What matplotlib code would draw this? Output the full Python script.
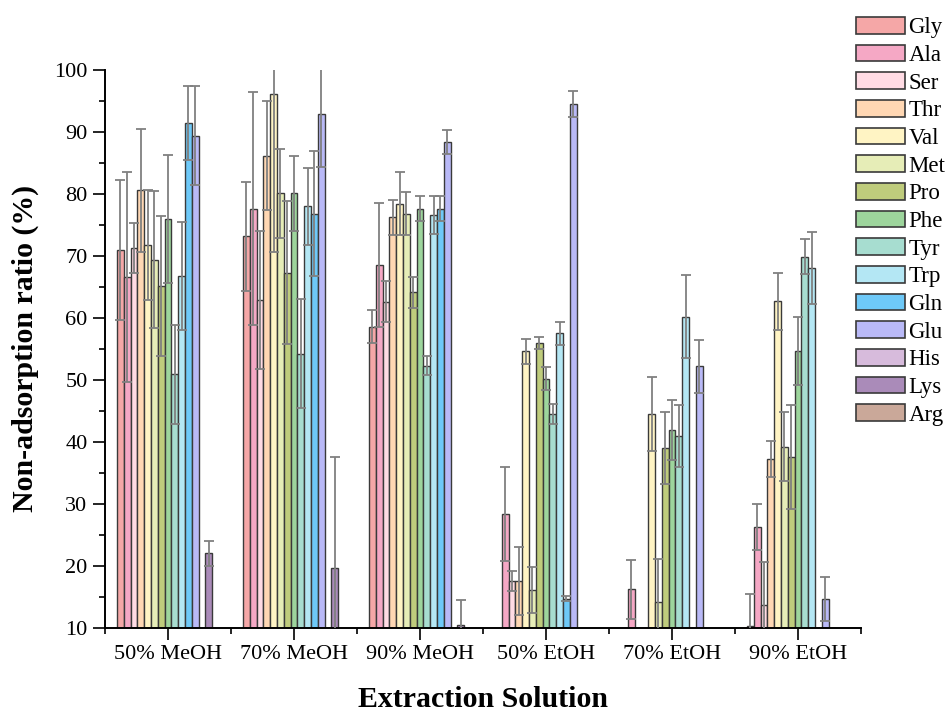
import numpy as np
import matplotlib.pyplot as plt
from matplotlib.patches import Patch

plt.rcParams['font.family'] = ['Liberation Serif', 'DejaVu Serif']

solutions = ['50% MeOH', '70% MeOH', '90% MeOH', '50% EtOH', '70% EtOH', '90% EtOH']
amino_acids = ['Gly', 'Ala', 'Ser', 'Thr', 'Val', 'Met', 'Pro', 'Phe',
               'Tyr', 'Trp', 'Gln', 'Glu', 'His', 'Lys', 'Arg']
colors = ['#f5a7a7', '#f5a8c5', '#ffdbe4', '#ffd7b3', '#fff4c4', '#e6edb7',
          '#bfcc7c', '#9dd59c', '#a7ddd0', '#b4e7f4', '#6ec9f8', '#b9b9f7',
          '#d7bbdc', '#aa8bb9', '#caa899']

nan = np.nan
# non-adsorption ratio (%), one row per amino acid, columns follow `solutions`
gly = [71.0, 73.2, 58.6, nan, nan, 10.3]
ala = [66.6, 77.6, 68.5, 28.4, 16.2, 26.3]
ser = [71.3, 62.9, 62.6, 17.5, nan, 13.6]
thr = [80.6, 86.2, 76.2, 17.5, nan, 37.2]
val = [71.8, 96.2, 78.4, 54.6, 44.5, 62.7]
met = [69.4, 80.1, 76.8, 16.1, 14.2, 39.2]
pro = [65.1, 67.3, 64.1, 55.9, 39.0, 37.5]
phe = [76.0, 80.1, 77.6, 50.2, 41.9, 54.6]
tyr = [50.9, 54.2, 52.3, 44.5, 40.9, 69.9]
trp = [66.7, 78.0, 76.6, 57.5, 60.2, 68.1]
gln = [91.4, 76.8, 77.6, 14.7, nan, nan]
glu = [89.4, 92.9, 88.4, 94.5, 52.2, 14.6]
his = [nan, nan, nan, nan, nan, nan]
lys = [22.0, 19.7, 10.5, nan, nan, nan]
arg = [nan, nan, nan, nan, nan, nan]

# standard deviations
gly_sd = [11.3, 8.8, 2.7, nan, nan, 5.1]
ala_sd = [17.0, 18.8, 10.0, 7.6, 4.8, 3.7]
ser_sd = [4.0, 11.1, 3.3, 1.6, nan, 7.0]
thr_sd = [9.9, 8.8, 2.8, 5.5, nan, 2.9]
val_sd = [8.9, 25.5, 5.1, 2.0, 6.0, 4.6]
met_sd = [11.1, 7.2, 3.5, 3.7, 6.9, 5.6]
pro_sd = [11.3, 11.5, 2.5, 1.0, 5.8, 8.4]
phe_sd = [10.3, 6.1, 2.0, 1.9, 4.8, 5.5]
tyr_sd = [8.0, 8.8, 1.6, 1.6, 5.0, 2.8]
trp_sd = [8.7, 6.2, 3.0, 1.9, 6.7, 5.8]
gln_sd = [6.0, 10.1, 2.0, 0.4, nan, nan]
glu_sd = [8.0, 8.5, 2.0, 2.1, 4.3, 3.5]
his_sd = [nan, nan, nan, nan, nan, nan]
lys_sd = [2.0, 17.8, 4.0, nan, nan, nan]
arg_sd = [nan, nan, nan, nan, nan, nan]

values = [gly, ala, ser, thr, val, met, pro, phe, tyr, trp, gln, glu, his, lys, arg]
errors = [gly_sd, ala_sd, ser_sd, thr_sd, val_sd, met_sd, pro_sd, phe_sd,
          tyr_sd, trp_sd, gln_sd, glu_sd, his_sd, lys_sd, arg_sd]

fig = plt.figure(figsize=(9.48, 7.11), dpi=100)
ax = fig.add_axes([0.1108, 0.1172, 0.7974, 0.7843])

x = np.arange(1, len(solutions) + 1)
width = 0.0539
n = len(amino_acids)
for i, (name, v, e, c) in enumerate(zip(amino_acids, values, errors, colors)):
    pos = x + (i - (n - 1) / 2) * width
    ax.bar(pos, v, width, color=c, edgecolor='#3a3a3a', linewidth=1.0,
           label=name, zorder=2)
    ax.errorbar(pos, v, yerr=e, fmt='none', ecolor='#808080', elinewidth=1.3,
                capsize=3.8, capthick=1.3, zorder=3)

ax.set_xlim(0.5, 6.5)
ax.set_ylim(10, 100)
ax.set_xticks(x)
ax.set_xticklabels(solutions)
ax.set_xticks(np.arange(0.5, 7, 1), minor=True)
ax.set_yticks(np.arange(10, 101, 10))
ax.set_yticks(np.arange(15, 100, 10), minor=True)

for side in ['top', 'right']:
    ax.spines[side].set_visible(False)
for side in ['left', 'bottom']:
    ax.spines[side].set_linewidth(1.4)

ax.tick_params(which='major', direction='out', length=8.6, width=1.2,
               labelsize=16, pad=4)
ax.tick_params(which='minor', direction='out', length=4.3, width=1.2)

ax.set_xlabel('Extraction Solution', fontsize=21.5, fontweight='bold', va='center')
ax.xaxis.set_label_coords(0.5, -0.128)
ax.set_ylabel('Non-adsorption ratio (%)', fontsize=21.5, fontweight='bold',
              va='center', ha='center')
ax.yaxis.set_label_coords(-0.106, 0.5)

handles = [Patch(facecolor=c, edgecolor='#3a3a3a', linewidth=1.2, label=a)
           for a, c in zip(amino_acids, colors)]
fig.legend(handles=handles, loc='upper left', bbox_to_anchor=(0.903, 0.976),
           frameon=False, fontsize=16.5, handlelength=2.13, handleheight=0.73,
           handletextpad=0.15, labelspacing=0.28, borderaxespad=0, borderpad=0)

fig.savefig('out.png', dpi=100)
